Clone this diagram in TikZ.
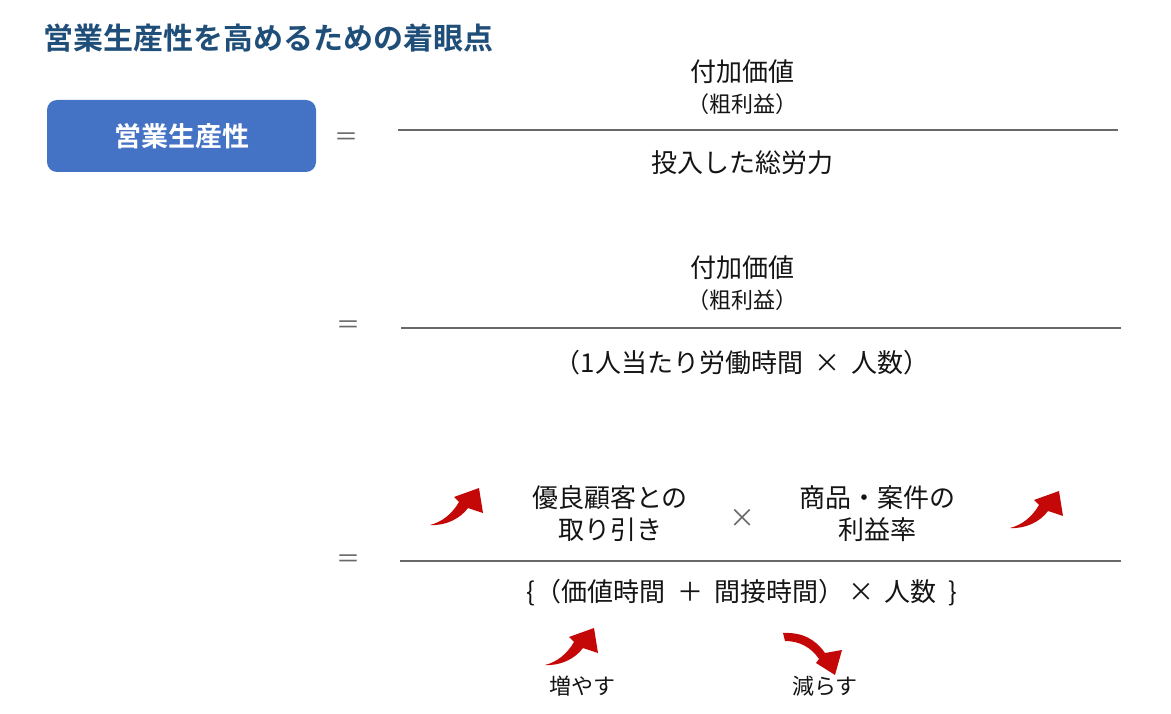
\documentclass[tikz,border=0pt]{standalone}
\usepackage{fontspec}
\setmainfont{Noto Sans CJK JP}[BoldFont={Noto Sans CJK JP Bold}]
\usepackage{xcolor}
\definecolor{ctitle}{RGB}{31,78,121}
\definecolor{cblue}{RGB}{68,114,196}
\definecolor{cgrey}{RGB}{105,105,105}
\definecolor{cred}{RGB}{196,8,8}
\definecolor{ctext}{RGB}{20,20,20}

\begin{document}
\begin{tikzpicture}[x=1pt, y=-1pt,
	uparrow/.pic={
		\fill[cred] (0,0) .. controls (12,-3) and (22,-11) .. (29,-23) -- (24,-28) -- (49,-37) -- (53,-12) -- (38,-17) .. controls (30,-6) and (15,1) .. (0,0) -- cycle;
	},
	downarrow/.pic={
		\fill[cred] (0,0) .. controls (20,-1) and (33,7) .. (42,20) -- (59,17) -- (52,42) -- (33,30) -- (36,26) .. controls (28,14) and (16,8) .. (2,8) -- cycle;
	}]
		\def\xleft{0}
		\def\xright{1171}
		\def\ydown{714}
		\def\yup{0}
		\def\xmid{742}
		\draw[draw=none, use as bounding box] (\xleft, \yup) rectangle (\xright, \ydown);
		
		\def\bigfont{\fontsize{26}{32}\selectfont}
		\def\midfont{\fontsize{22}{26}\selectfont}
		\def\gpfont{\fontsize{22}{24}\selectfont}
		\def\lsep{32}
		
		% Title
		\node[anchor=west, text=ctitle, inner sep=0pt, font=\fontsize{30}{32}\selectfont\bfseries] (title) at (43, 38)
			{営業生産性を高めるための着眼点};
		
		% Box
		\node[fill=cblue, rounded corners=10pt, minimum width=269, minimum height=72, text=white, font=\fontsize{27}{30}\selectfont\bfseries] (prod) at (181.5, 136)
			{営業生産性};
		
		% Equals
		\node[text=cgrey, font=\fontsize{24}{26}\selectfont] (eq1) at (346, 139) {＝};
		\node[text=cgrey, font=\fontsize{24}{26}\selectfont] (eq2) at (348, 327) {＝};
		\node[text=cgrey, font=\fontsize{24}{26}\selectfont] (eq3) at (348, 561) {＝};
		
		% First fraction
		\node[text=ctext, font=\bigfont] (val1) at (\xmid, 72) {付加価値};
		\node[text=ctext, font=\gpfont] (gp1) at ([yshift=-\lsep]val1.center) {（粗利益）};
		\draw[cgrey, line width=1.3pt] (398, 130) -- (1118, 130);
		\node[text=ctext, font=\bigfont] (lab1) at (\xmid, 163) {投入した総労力};
		
		% Second fraction
		\node[text=ctext, font=\bigfont] (val2) at (\xmid, 268) {付加価値};
		\node[text=ctext, font=\gpfont] (gp2) at ([yshift=-\lsep]val2.center) {（粗利益）};
		\draw[cgrey, line width=1.3pt] (401, 328) -- (1121, 328);
		\node[text=ctext, font=\bigfont] (lab2) at (\xmid, 363) {（1人当たり労働時間\hspace{5pt} × \hspace{5pt}人数）};
		
		% Third fraction
		\node[text=ctext, align=center, font=\bigfont] (cust) at (610, 514) {優良顧客との\\取り引き};
		\node[text=cgrey, font=\bigfont] (times) at (\xmid, 518) {×};
		\node[text=ctext, align=center, font=\bigfont] (margin) at (877, 514) {商品・案件の\\利益率};
		\draw[cgrey, line width=1.3pt] (400, 561) -- (1121, 561);
		\node[text=ctext, font=\bigfont] (lab3) at (\xmid, 593) {\{（価値時間\hspace{6pt} ＋ \hspace{6pt}間接時間）\hspace{4pt}× \hspace{4pt}人数\hspace{6pt} \}};
		
		% Labels
		\node[text=ctext, font=\midfont] (inc) at (582, 686) {増やす};
		\node[text=ctext, font=\midfont] (dec) at (825, 686) {減らす};
		
		% Arrows
		\pic at (430, 525) {uparrow};
		\pic at (1010, 528) {uparrow};
		\pic at (545, 665) {uparrow};
		\pic at (783, 633) {downarrow};
		
	\end{tikzpicture}
\end{document}
